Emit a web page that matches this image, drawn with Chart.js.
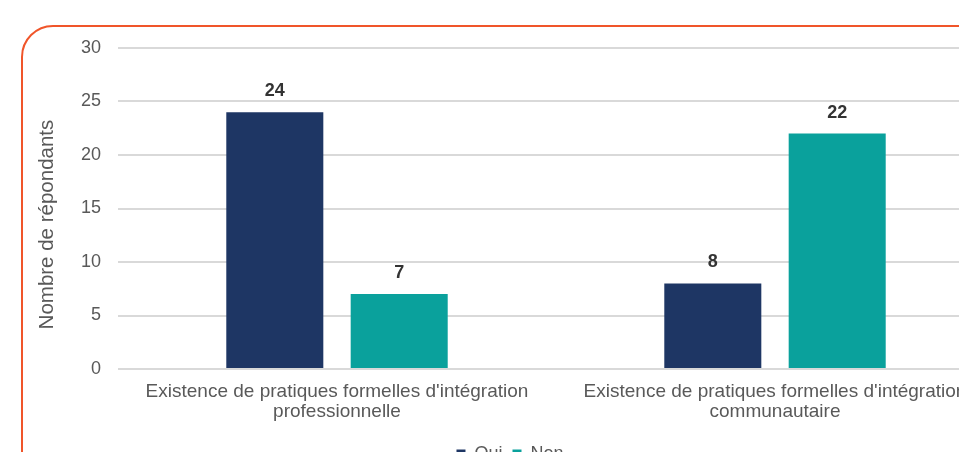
<!DOCTYPE html>
<html>
<head>
<meta charset="utf-8">
<script src="https://cdn.jsdelivr.net/npm/chart.js@4.4.1/dist/chart.umd.min.js"></script>
<style>
  html, body { margin: 0; padding: 0; background: #fff; overflow: hidden; width: 959px; height: 452px; }
  #frame { position: absolute; left: 21px; top: 25px; width: 1040px; height: 520px;
           border: 2.5px solid #F0552A; border-radius: 32px; box-sizing: border-box; }
  #wrap { position: absolute; left: 0; top: 0; width: 1020px; height: 493px; }
</style>
</head>
<body>
<div id="frame"></div>
<div id="wrap"><canvas id="chart"></canvas></div>
<script>
// Data
const categories = [
  ["Existence de pratiques formelles d'intégration", "professionnelle"],
  ["Existence de pratiques formelles d'intégration", "communautaire"]
];
const seriesNames = ["Oui", "Non"];
const ouiValues = [24, 8];
const nonValues = [7, 22];
const yTicks = [0, 5, 10, 15, 20, 25, 30];
const yTitle = "Nombre de répondants";

const colors = ["#1E3664", "#0AA19C"];
const textGray = "#595959";
const fontFamily = "'Liberation Sans', Arial, sans-serif";

// Plugin: value above each bar + rotated y title
const valueLabels = {
  id: "valueLabels",
  afterDatasetsDraw(chart) {
    const ctx = chart.ctx;
    ctx.save();
    ctx.font = "bold 18px " + fontFamily;
    ctx.fillStyle = "#333333";
    ctx.textAlign = "center";
    ctx.textBaseline = "middle";
    chart.data.datasets.forEach((ds, i) => {
      chart.getDatasetMeta(i).data.forEach((bar, j) => {
        ctx.fillText(ds.data[j], bar.x, bar.y - 21);
      });
    });
    // y axis title, sits a bit below the plot centre like the original
    const yScale = chart.scales.y;
    ctx.translate(47, yScale.getPixelForValue(13.5));
    ctx.rotate(-Math.PI / 2);
    ctx.font = "20.5px " + fontFamily;
    ctx.fillStyle = textGray;
    ctx.fillText(yTitle, 0, 0);
    ctx.restore();
  }
};

const chartCanvas = document.getElementById("chart");
new Chart(chartCanvas.getContext("2d"), {
  type: "bar",
  data: {
    labels: categories,
    datasets: [
      { label: seriesNames[0], data: ouiValues, backgroundColor: colors[0] },
      { label: seriesNames[1], data: nonValues, backgroundColor: colors[1] }
    ]
  },
  options: {
    responsive: true,
    maintainAspectRatio: false,
    animation: false,
    datasets: { bar: { categoryPercentage: 0.568, barPercentage: 0.78 } },
    layout: { padding: { left: 26, top: 48, right: 26, bottom: 20 } },
    plugins: {
      legend: {
        position: "bottom",
        labels: {
          boxWidth: 9,
          boxHeight: 9,
          padding: 10,
          color: textGray,
          font: { family: fontFamily, size: 18 }
        }
      },
      tooltip: { enabled: false }
    },
    scales: {
      x: {
        grid: { display: false, drawTicks: false },
        border: { display: false },
        ticks: {
          color: textGray,
          padding: 13,
          maxRotation: 0,
          font: { family: fontFamily, size: 19, lineHeight: 1.05 }
        },
        afterFit(scale) { scale.height = 66; }
      },
      y: {
        min: 0,
        max: 30,
        afterBuildTicks(scale) { scale.ticks = yTicks.map(v => ({ value: v })); },
        grid: { color: "#D9D9D9", lineWidth: 2, drawTicks: false },
        border: { display: false },
        ticks: {
          color: textGray,
          padding: 17,
          font: { family: fontFamily, size: 18 }
        },
        afterFit(scale) { scale.width = 92; }
      }
    }
  },
  plugins: [valueLabels]
});
</script>
</body>
</html>
